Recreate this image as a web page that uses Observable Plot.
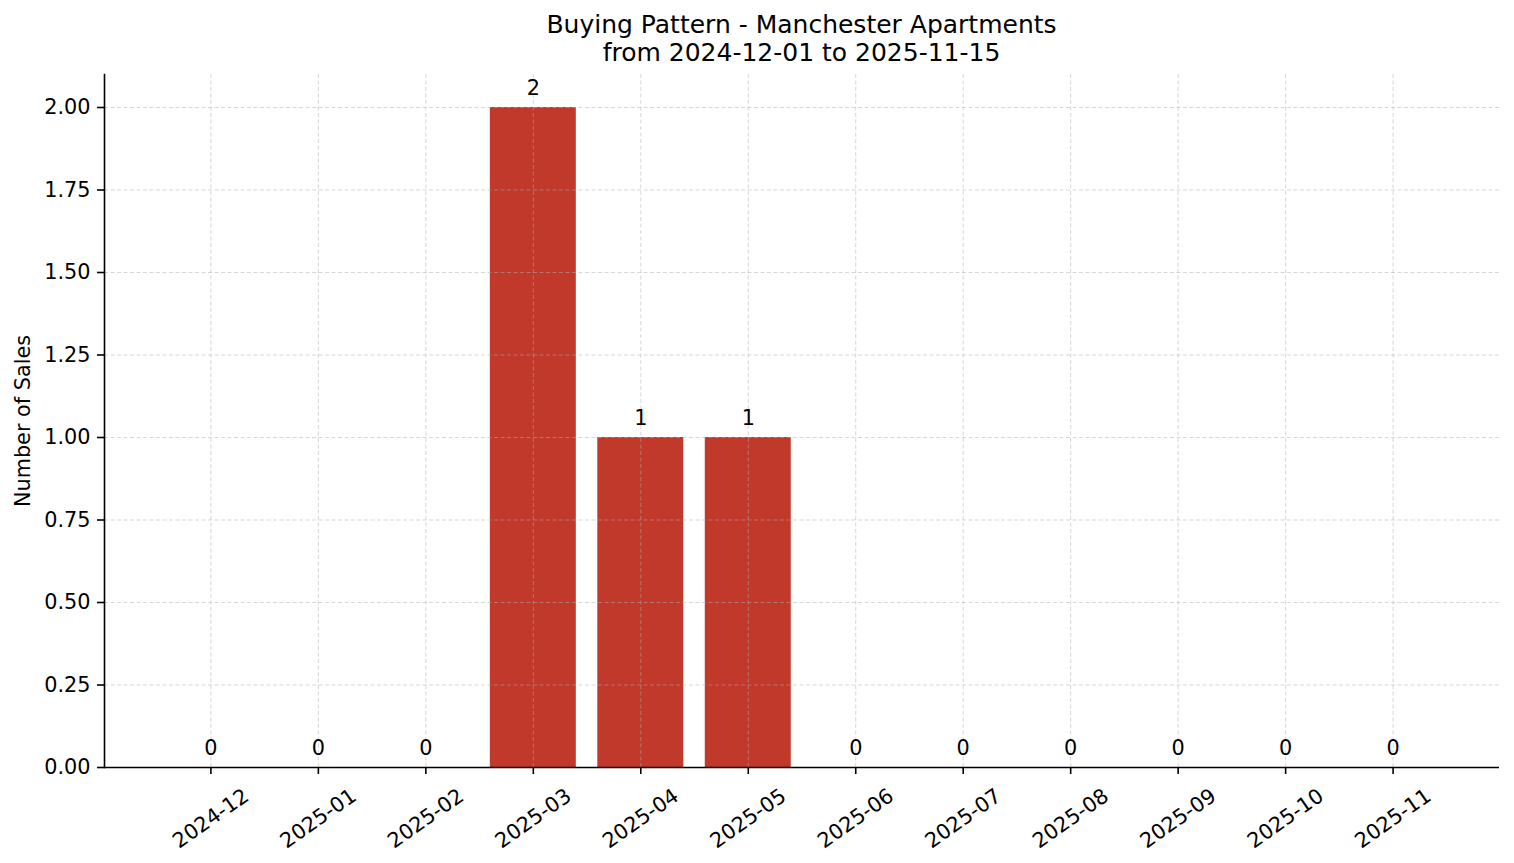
<!DOCTYPE html>
<html>
<head>
<meta charset="utf-8">
<script src="https://cdn.jsdelivr.net/npm/d3@7"></script>
<script src="https://cdn.jsdelivr.net/npm/@observablehq/plot@0.6"></script>
<style>
  html, body { margin: 0; padding: 0; background: #fff; }
  #wrap { position: relative; width: 1514px; height: 863px; font-family: "DejaVu Sans", sans-serif; }
  #title { position: absolute; top: 11px; left: 0; width: 1603px; text-align: center; font-size: 25px; line-height: 28px; color: #000; }
  #chart { position: absolute; top: 0; left: 0; }
</style>
</head>
<body>
<div id="wrap">
  <div id="chart"></div>
  <div id="title">Buying Pattern - Manchester Apartments<br>from 2024-12-01 to 2025-11-15</div>
</div>
<script>
const titleText = "Buying Pattern - Manchester Apartments";
const subtitleText = "from 2024-12-01 to 2025-11-15";
const yLabel = "Number of Sales";
const months = ["2024-12","2025-01","2025-02","2025-03","2025-04","2025-05","2025-06","2025-07","2025-08","2025-09","2025-10","2025-11"];
const sales = [0,0,0,2,1,1,0,0,0,0,0,0];
const yTicks = [0,0.25,0.5,0.75,1,1.25,1.5,1.75,2];

const data = months.map((m, i) => ({month: m, sales: sales[i]}));

const gridStyle = {stroke: "#b0b0b0", strokeOpacity: 0.5, strokeWidth: 1, strokeDasharray: "4,2.5"};

const chart = Plot.plot({
  width: 1514,
  height: 863,
  marginLeft: 104,
  marginRight: 15,
  marginTop: 74,
  marginBottom: 96,
  style: {fontFamily: "DejaVu Sans, sans-serif", fontSize: "20.8px", color: "#000", background: "transparent"},
  x: {type: "band", domain: months, paddingInner: 0.2, paddingOuter: 0.59, align: 0.5, round: false, label: null},
  y: {domain: [0, 2.1], label: null},
  marks: [
    Plot.barY(data, {x: "month", y: "sales", fill: "#c0392b"}),
    Plot.gridX({...gridStyle}),
    Plot.gridY({...gridStyle, ticks: yTicks}),
    Plot.axisY({ticks: yTicks, tickFormat: d3.format(".2f"), tickSize: 7, tickPadding: 7, strokeWidth: 1.6, stroke: "#000", fill: "#000", label: null, fontSize: 20.8}),
    Plot.axisX({tickSize: 7, tickFormat: () => "", strokeWidth: 1.6, stroke: "#000", label: null}),
    Plot.text(months, {x: d => d, frameAnchor: "bottom", dy: 51, rotate: -35, textAnchor: "middle", lineAnchor: "middle", fill: "#000", fontSize: 20.8}),
    Plot.text(data, {x: "month", y: "sales", text: d => String(d.sales), lineAnchor: "bottom", dy: -13, fill: "#000", fontSize: 20.8}),
    Plot.text([yLabel], {frameAnchor: "left", dx: -81, rotate: -90, textAnchor: "middle", lineAnchor: "middle", fill: "#000", fontSize: 20.8}),
    Plot.ruleY([0], {stroke: "#000", strokeWidth: 1.6}),
    Plot.frame({anchor: "left", stroke: "#000", strokeWidth: 1.6})
  ]
});
document.getElementById("chart").appendChild(chart);
</script>
</body>
</html>
